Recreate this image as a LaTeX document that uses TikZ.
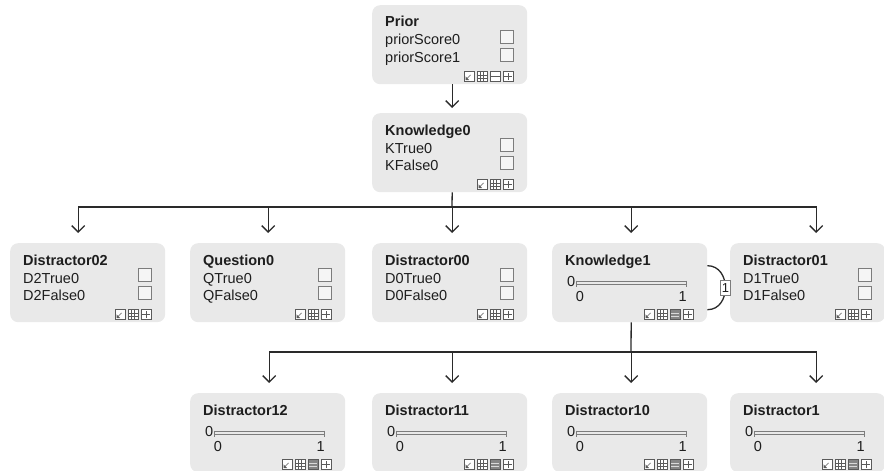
\documentclass[tikz,border=0pt]{standalone}
\usepackage{fontspec}
\setmainfont{Liberation Sans}
\usetikzlibrary{arrows.meta,calc}
\definecolor{boxfill}{HTML}{E9E9E9}
\definecolor{ink}{HTML}{1E1E1E}
\definecolor{edgec}{HTML}{2A2A2A}
\definecolor{ctl}{HTML}{7C7C7C}
\definecolor{icl}{HTML}{5A5A5A}
\tikzset{
  bnbox/.style={anchor=north west, rectangle, rounded corners=8pt, fill=boxfill, draw=none,
    minimum width=155pt, minimum height=79pt, inner sep=0pt},
  ttl/.style={anchor=base west, inner sep=0pt, text=ink, font=\fontsize{14.5}{17}\selectfont\bfseries},
  lbl/.style={anchor=base west, inner sep=0pt, text=ink, font=\fontsize{14.5}{17}\selectfont},
  chk/.style={draw=ctl, line width=0.7pt, minimum size=13pt, inner sep=0pt, fill=white!55!boxfill},
  sbar/.style={draw=ctl, line width=0.6pt},
  ico/.style={draw=icl, line width=0.6pt, minimum size=9.8pt, inner sep=0pt, fill=white},
  icheck/.style={ico, path picture={
      \fill[icl] ([shift={(1.4pt,1.4pt)}]path picture bounding box.south west) -- ++(3.6pt,0pt) -- ++(-3.6pt,3.6pt) -- cycle;
      \draw[icl, line width=0.6pt] ([shift={(2pt,2pt)}]path picture bounding box.south west) -- ++(4.5pt,4.5pt);}},
  igrid/.style={ico, path picture={
      \foreach \d in {-1.6,1.6}{
        \draw[icl, line width=0.5pt] ([xshift=\d pt]path picture bounding box.north) -- ([xshift=\d pt]path picture bounding box.south);
        \draw[icl, line width=0.5pt] ([yshift=\d pt]path picture bounding box.west) -- ([yshift=\d pt]path picture bounding box.east);}}},
  iplus/.style={ico, path picture={
      \draw[icl, line width=0.6pt] ([yshift=1.3pt]path picture bounding box.south) -- ([yshift=-1.3pt]path picture bounding box.north);
      \draw[icl, line width=0.6pt] ([xshift=1.3pt]path picture bounding box.west) -- ([xshift=-1.3pt]path picture bounding box.east);}},
  iminus/.style={ico, path picture={
      \draw[icl, line width=0.6pt] (path picture bounding box.west) -- (path picture bounding box.east);}},
  ibars/.style={ico, fill=black!48, path picture={
      \foreach \d in {-1.5,1.5}{
        \draw[white!85!black, line width=0.6pt] ([xshift=1.3pt,yshift=\d pt]path picture bounding box.west) -- ([xshift=-1.3pt,yshift=\d pt]path picture bounding box.east);}}},
  wire/.style={draw=edgec, line width=1.3pt},
  conn/.style={wire, -{Straight Barb[length=6.5pt,width=13pt]}},
  lnum/.style={draw=ctl, fill=white, line width=0.6pt, inner sep=1pt, minimum height=15pt, text=ink,
    font=\fontsize{13}{13}\selectfont},
}
\newcommand\bnhead[4]{%
  \node[bnbox] (#1) at (#2,#3) {};
  \node[ttl] (#1-t) at (#2+13,#3+22) {#4};}
\newcommand\bnrows[5]{%
  \node[lbl] (#1-a) at (#2+13,#3+40) {#4};
  \node[lbl] (#1-b) at (#2+13,#3+57) {#5};
  \node[chk] (#1-ca) at (#2+134.5,#3+32) {};
  \node[chk] (#1-cb) at (#2+134.5,#3+50) {};}
\newcommand\bnslider[3]{%
  \node[lbl] (#1-z) at (#2+15,#3+43) {0};
  \coordinate (#1-s0) at (#2+24,#3+39.5);
  \coordinate (#1-s1) at (#2+134,#3+39.5);
  \draw[sbar] ([yshift=1.6pt]#1-s0) rectangle ([yshift=-1.6pt]#1-s1);
  \draw[sbar] ([yshift=2pt]#1-s0) -- ([yshift=-4.5pt]#1-s0);
  \draw[sbar] ([yshift=2pt]#1-s1) -- ([yshift=-4.5pt]#1-s1);
  \node[lbl,anchor=base] (#1-lo) at (#2+28,#3+58) {0};
  \node[lbl,anchor=base east] (#1-hi) at (#2+135,#3+58) {1};}
\newcommand\iconsthree[3]{%
  \node[icheck] (#1-i1) at (#2+110,#3+71.5) {};
  \node[igrid] (#1-i2) at (#2+123,#3+71.5) {};
  \node[iplus] (#1-i3) at (#2+136,#3+71.5) {};}
\newcommand\iconsfour[4]{%
  \node[icheck] (#1-i1) at (#2+97,#3+71.5) {};
  \node[igrid] (#1-i2) at (#2+110,#3+71.5) {};
  \node[#4] (#1-i3) at (#2+123,#3+71.5) {};
  \node[iplus] (#1-i4) at (#2+136,#3+71.5) {};}
\begin{document}
\begin{tikzpicture}[x=1pt,y=-1pt]
\useasboundingbox (0,0) rectangle (884,471);
% top
\bnhead{prior}{372}{5}{Prior}
\bnrows{prior}{372}{5}{priorScore0}{priorScore1}
\iconsfour{prior}{372}{5}{iminus}
\bnhead{k0}{372}{113}{Knowledge0}
\bnrows{k0}{372}{113}{KTrue0}{KFalse0}
\iconsthree{k0}{372}{113}
% row 2
\bnhead{d02}{10}{243}{Distractor02}
\bnrows{d02}{10}{243}{D2True0}{D2False0}
\iconsthree{d02}{10}{243}
\bnhead{q0}{190}{243}{Question0}
\bnrows{q0}{190}{243}{QTrue0}{QFalse0}
\iconsthree{q0}{190}{243}
\bnhead{d00}{372}{243}{Distractor00}
\bnrows{d00}{372}{243}{D0True0}{D0False0}
\iconsthree{d00}{372}{243}
\bnhead{k1}{552}{243}{Knowledge1}
\bnslider{k1}{552}{243}
\iconsfour{k1}{552}{243}{ibars}
\bnhead{d01}{730}{243}{Distractor01}
\bnrows{d01}{730}{243}{D1True0}{D1False0}
\iconsthree{d01}{730}{243}
% row 3
\bnhead{d12}{190}{393}{Distractor12}
\bnslider{d12}{190}{393}
\iconsfour{d12}{190}{393}{ibars}
\bnhead{d11}{372}{393}{Distractor11}
\bnslider{d11}{372}{393}
\iconsfour{d11}{372}{393}{ibars}
\bnhead{d10}{552}{393}{Distractor10}
\bnslider{d10}{552}{393}
\iconsfour{d10}{552}{393}{ibars}
\bnhead{d1}{730}{393}{Distractor1}
\bnslider{d1}{730}{393}
\iconsfour{d1}{730}{393}{ibars}
% connectors
\draw[conn] ([xshift=2.5pt]prior.south) -- ([xshift=2.5pt,yshift=5pt]k0.north);
\coordinate (bus1) at (452,207);
\draw[wire] ([xshift=2.5pt]k0.south) -- (bus1);
\draw[conn] (bus1) -| ([xshift=-9.5pt,yshift=10pt]d02.north);
\draw[conn] (bus1) -| ([xshift=0.5pt,yshift=10pt]q0.north);
\draw[conn] (bus1) -| ([xshift=2.5pt,yshift=10pt]d00.north);
\draw[conn] (bus1) -| ([xshift=1.5pt,yshift=10pt]k1.north);
\draw[conn] (bus1) -| ([xshift=8.5pt,yshift=10pt]d01.north);
\coordinate (bus2) at (631,352);
\draw[wire] ([xshift=1.5pt]k1.south) -- (bus2);
\draw[conn] (bus2) -| ([xshift=1.5pt,yshift=10pt]d12.north);
\draw[conn] (bus2) -| ([xshift=2.5pt,yshift=10pt]d11.north);
\draw[conn] (bus2) -| ([xshift=1.5pt,yshift=10pt]d10.north);
\draw[conn] (bus2) -| ([xshift=8.5pt,yshift=10pt]d1.north);
% temporal self-loop
\draw[wire] ([yshift=17pt]k1.east) .. controls +(24,0) and +(24,0) .. ([yshift=-27pt]k1.east)
  node[pos=0.5, lnum] (k1-loop) {1};
\end{tikzpicture}
\end{document}
